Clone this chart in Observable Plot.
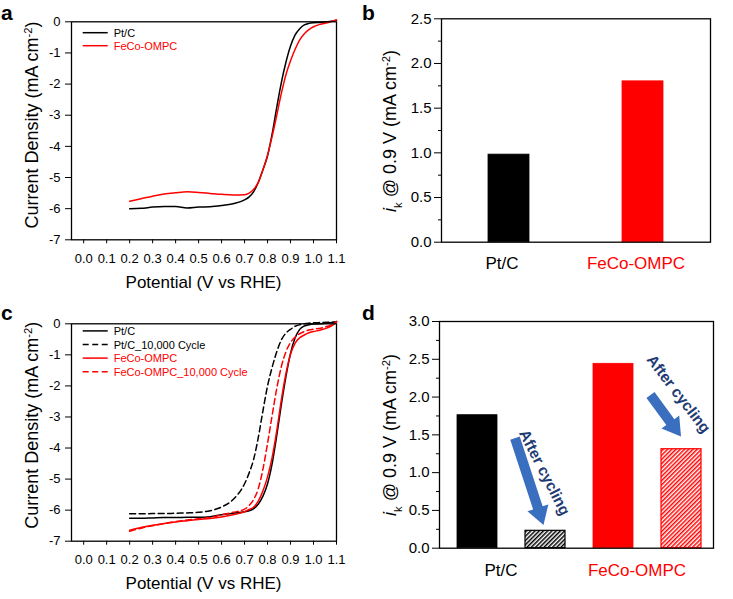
<!DOCTYPE html>
<html><head><meta charset="utf-8">
<script src="https://cdn.jsdelivr.net/npm/d3@7"></script>
<script src="https://cdn.jsdelivr.net/npm/@observablehq/plot@0.6"></script>
<style>
body{margin:0;background:#fff;}
#fig{position:relative;width:733px;height:599px;overflow:hidden;background:#fff;}
</style></head><body><div id="fig"></div>
<script>
// ---------- DATA ----------
const potential = [0.20,0.25,0.30,0.35,0.40,0.45,0.50,0.55,0.60,0.65,0.70,0.72,0.74,0.76,0.78,0.80,0.82,0.84,0.86,0.88,0.90,0.92,0.94,0.96,0.98,1.00,1.03,1.06,1.08,1.10];
// panel a
const ptcA  = [-6.00,-5.99,-5.95,-5.93,-5.93,-5.98,-5.95,-5.94,-5.90,-5.84,-5.72,-5.62,-5.45,-5.15,-4.75,-4.30,-3.60,-2.75,-1.95,-1.30,-0.78,-0.42,-0.22,-0.10,-0.05,-0.03,-0.02,0.00,0.02,0.05];
const fecoA = [-5.76,-5.68,-5.60,-5.53,-5.49,-5.46,-5.48,-5.51,-5.54,-5.56,-5.55,-5.50,-5.38,-5.15,-4.75,-4.28,-3.68,-3.00,-2.30,-1.70,-1.25,-0.88,-0.58,-0.38,-0.25,-0.16,-0.08,-0.03,0.02,0.06];
// panel c
const ptcC        = [-6.26,-6.26,-6.25,-6.24,-6.24,-6.23,-6.23,-6.21,-6.15,-6.10,-6.05,-6.02,-5.95,-5.80,-5.55,-5.15,-4.50,-3.60,-2.60,-1.70,-0.95,-0.45,-0.18,-0.07,-0.03,-0.01,0.00,0.02,0.04,0.07];
const ptcCycledC  = [-6.12,-6.12,-6.11,-6.11,-6.10,-6.09,-6.07,-6.02,-5.90,-5.66,-5.15,-4.80,-4.35,-3.65,-2.80,-2.00,-1.40,-0.90,-0.52,-0.30,-0.18,-0.08,-0.03,0.00,0.02,0.03,0.04,0.05,0.05,0.07];
const fecoC       = [-6.65,-6.56,-6.49,-6.43,-6.38,-6.34,-6.30,-6.27,-6.22,-6.15,-6.05,-5.98,-5.90,-5.70,-5.38,-4.93,-4.30,-3.45,-2.45,-1.60,-0.98,-0.62,-0.45,-0.36,-0.29,-0.25,-0.20,-0.13,-0.06,0.07];
const fecoCycledC = [-6.68,-6.58,-6.50,-6.43,-6.37,-6.32,-6.28,-6.24,-6.15,-6.07,-5.97,-5.85,-5.65,-5.30,-4.68,-3.85,-2.95,-2.08,-1.38,-0.90,-0.60,-0.43,-0.32,-0.25,-0.20,-0.17,-0.14,-0.08,-0.03,0.07];
const potentialTicks = [0.0,0.1,0.2,0.3,0.4,0.5,0.6,0.7,0.8,0.9,1.0,1.1];
const currentTicks = [0,-1,-2,-3,-4,-5,-6,-7];
// panel b
const catsB = ["Pt/C","FeCo-OMPC"];
const ikB = [0.98, 1.80];
const ikTicksB = [0.0,0.5,1.0,1.5,2.0,2.5];
const ikMinorB = [0.25,0.75,1.25,1.75,2.25];
// panel d
const groupsD = ["Pt/C","FeCo-OMPC"];
const barsD = ["Pt/C","Pt/C_10,000 Cycle","FeCo-OMPC","FeCo-OMPC_10,000 Cycle"];
const ikD = [1.76, 0.23, 2.44, 1.31];
const ikTicksD = [0.0,0.5,1.0,1.5,2.0,2.5,3.0];
const ikMinorD = [0.25,0.75,1.25,1.75,2.25,2.75];
const annotationText = "After cycling";

// ---------- STYLE ----------
const FONT = '"Liberation Sans", Arial, Helvetica, sans-serif';
const RED = "#ff0000";
const fig = document.getElementById("fig");

function place(el, left, top) {
  el.style.position = "absolute"; el.style.left = left + "px"; el.style.top = top + "px";
  fig.appendChild(el); return el;
}
function richText(svg, x, y, rotate, parts, size, anchor = "middle") {
  const t = d3.select(svg).append("text")
    .attr("transform", `translate(${x},${y}) rotate(${rotate})`)
    .attr("text-anchor", anchor).attr("font-size", size).attr("font-family", FONT).attr("fill", "#000");
  for (const p of parts) {
    const s = t.append("tspan").text(p.text);
    if (p.italic) s.attr("font-style", "italic");
    if (p.shift) s.attr("baseline-shift", p.shift).attr("font-size", size * 0.62);
  }
}
const yTitleLSV = [{text: "Current Density (mA cm"}, {text: "-2", shift: "super"}, {text: ")"}];
const yTitleIk = [{text: "i", italic: true}, {text: "k", shift: "sub"}, {text: " @ 0.9 V (mA cm"}, {text: "-2", shift: "super"}, {text: ")"}];

function legend(svg, x, y0, step, items) {
  const g = d3.select(svg).append("g").attr("font-family", FONT).attr("font-size", 11).attr("text-anchor", "start");
  items.forEach((s, i) => {
    const y = y0 + i * step;
    g.append("line").attr("x1", x).attr("x2", x + 25).attr("y1", y).attr("y2", y)
      .attr("stroke", s.color).attr("stroke-width", 1.5).attr("stroke-dasharray", s.dash || null);
    g.append("text").attr("x", x + 31).attr("y", y + 4).attr("text-anchor", "start").attr("fill", s.color).text(s.name);
  });
}

function lsvPanel(series, m) {
  const data = series.flatMap(s => potential.map((p, i) => ({potential: p, current: s.values[i], name: s.name})));
  return Plot.plot({
    width: m.width, height: m.height,
    marginLeft: m.left, marginRight: m.right, marginTop: m.top, marginBottom: m.bottom,
    x: {domain: [-0.053, 1.1], label: null},
    y: {domain: [-7, 0], label: null},
    style: {fontFamily: FONT, fontSize: "13px", color: "#000", background: "transparent", overflow: "visible"},
    marks: [
      Plot.axisY(currentTicks, {tickSize: 6, tickPadding: 5, tickFormat: d => String(d), fontSize: 13, label: null}),
      Plot.axisX(potentialTicks, {tickSize: 4, tickPadding: 10, tickFormat: d => d.toFixed(1), fontSize: 13, label: null}),
      ...series.map(s => Plot.line(data.filter(d => d.name === s.name),
        {x: "potential", y: "current", stroke: s.color, strokeWidth: 1.5, strokeDasharray: s.dash, curve: "monotone-x"})),
      Plot.frame({stroke: "#000", strokeWidth: 1.3})
    ]
  });
}

// ---------- PANEL A ----------
const seriesA = [
  {name: "Pt/C", values: ptcA, color: "#000"},
  {name: "FeCo-OMPC", values: fecoA, color: RED}
];
const svgA = place(lsvPanel(seriesA, {width: 366, height: 300, left: 71, right: 30, top: 21.3, bottom: 60.7}), 0, 0);
richText(svgA, 38, 125, -90, yTitleLSV, 18);
richText(svgA, 203.5, 288, 0, [{text: "Potential (V vs RHE)"}], 17);
legend(svgA, 82.7, 32.7, 13, seriesA);

// ---------- PANEL C ----------
const seriesC = [
  {name: "Pt/C", values: ptcC, color: "#000"},
  {name: "Pt/C_10,000 Cycle", values: ptcCycledC, color: "#000", dash: "6,3.5"},
  {name: "FeCo-OMPC", values: fecoC, color: RED},
  {name: "FeCo-OMPC_10,000 Cycle", values: fecoCycledC, color: RED, dash: "6,3.5"}
];
const svgC = place(lsvPanel(seriesC, {width: 366, height: 299, left: 71, right: 30, top: 23.3, bottom: 58.3}), 0, 300);
richText(svgC, 38, 125.3, -90, yTitleLSV, 18);
richText(svgC, 203.5, 289, 0, [{text: "Potential (V vs RHE)"}], 17);
legend(svgC, 82.7, 30.9, 13.6, seriesC);

// ---------- PANEL B ----------
const fillsB = ["#000", RED];
const dataB = catsB.map((c, i) => ({cat: c, value: ikB[i]}));
const svgB = place(Plot.plot({
  width: 367, height: 300, marginLeft: 75, marginRight: 23, marginTop: 18.3, marginBottom: 58.3,
  x: {domain: catsB, paddingInner: 0.695, paddingOuter: 0.3475, label: null, axis: null},
  y: {domain: [0, 2.5], label: null},
  style: {fontFamily: FONT, fontSize: "15px", color: "#000", background: "transparent", overflow: "visible"},
  marks: [
    Plot.axisY(ikTicksB, {tickSize: 7, tickPadding: 3, tickFormat: d => d.toFixed(1), fontSize: 15, label: null}),
    Plot.axisY(ikMinorB, {tickSize: 3, fill: "none", label: null}),
    ...dataB.map((d, i) => Plot.barY([d], {x: "cat", y: "value", fill: fillsB[i], stroke: fillsB[i], strokeWidth: 0.8})),
    ...catsB.map((c, i) => Plot.text([c], {x: d => d, text: d => d, frameAnchor: "bottom", lineAnchor: "bottom",
      dy: 26.5, dx: -7, fill: fillsB[i], fontSize: 17})),
    Plot.frame({stroke: "#000", strokeWidth: 1.3})
  ]
}), 366, 0);
richText(svgB, 30, 131, -90, yTitleIk, 18);

// ---------- PANEL D ----------
const fillsD = ["#000", "url(#hatchBlack)", RED, "url(#hatchRed)"];
const strokesD = ["#000", "#000", RED, RED];
const dataD = barsD.map((b, i) => ({bar: b, value: ikD[i]}));
// annotation geometry (arrows drawn from pre- to post-cycling bars)
const arrowsD = [
  {bar: barsD[1], fromDx: -30, fromY: 1.45, toDx: -1.5, toY: 0.30, textDx: -1, textY: 1.0, angle: 63},
  {bar: barsD[3], fromDx: -30.5, fromY: 2.02, toDx: 0, toY: 1.47, textDx: -3, textY: 2.04, angle: 52.5}
];
const svgD = place(Plot.plot({
  width: 367, height: 299, marginLeft: 73, marginRight: 20, marginTop: 21, marginBottom: 51.3,
  x: {domain: barsD, paddingInner: 0.406, paddingOuter: 0.203, align: 0.61, label: null, axis: null},
  y: {domain: [0, 3], label: null},
  style: {fontFamily: FONT, fontSize: "15px", color: "#000", background: "transparent", overflow: "visible"},
  marks: [
    Plot.axisY(ikTicksD, {tickSize: 7, tickPadding: 3, tickFormat: d => d.toFixed(1), fontSize: 15, label: null}),
    Plot.axisY(ikMinorD, {tickSize: 3, fill: "none", label: null}),
    ...dataD.map((d, i) => Plot.barY([d], {x: "bar", y: "value", fill: fillsD[i], stroke: strokesD[i], strokeWidth: i % 2 ? 1.2 : 0.8})),
    ...groupsD.map((g, i) => Plot.text([g], {x: d => d, text: d => d, frameAnchor: "bottom", lineAnchor: "bottom",
      dy: 27.3, dx: 23.5, fill: i ? RED : "#000", fontSize: 17})),
    ...arrowsD.map(a => Plot.text([a], {x: "bar", y: "textY", dx: a.textDx, text: () => annotationText, rotate: a.angle,
      fill: "#1f3c73", fontWeight: "bold", fontSize: 15.5, textAnchor: "middle", lineAnchor: "middle"})),
    Plot.frame({stroke: "#000", strokeWidth: 1.3})
  ]
}), 366, 300);
richText(svgD, 30, 135, -90, yTitleIk, 18);
{
  const defs = d3.select(svgD).insert("defs", ":first-child");
  const hatch = (id, color) => {
    const p = defs.append("pattern").attr("id", id).attr("patternUnits", "userSpaceOnUse")
      .attr("width", 3).attr("height", 3).attr("patternTransform", "rotate(45)");
    p.append("rect").attr("width", 3).attr("height", 3).attr("fill", "#fff");
    p.append("rect").attr("width", 1.5).attr("height", 3).attr("fill", color);
  };
  hatch("hatchBlack", "#000");
  hatch("hatchRed", RED);
  const sx = svgD.scale("x"), sy = svgD.scale("y");
  const cx = b => sx.apply(b) + sx.bandwidth / 2;
  const g = d3.select(svgD).append("g");
  for (const a of arrowsD) {
    const x0 = cx(a.bar) + a.fromDx, y0 = sy.apply(a.fromY);
    const x1 = cx(a.bar) + a.toDx, y1 = sy.apply(a.toY);
    const L = Math.hypot(x1 - x0, y1 - y0), ux = (x1 - x0) / L, uy = (y1 - y0) / L, nx = -uy, ny = ux;
    const hl = 18, sw = 5, hw = 11;
    const hx = x1 - ux * hl, hy = y1 - uy * hl;
    const pts = [[x0 + nx*sw, y0 + ny*sw], [hx + nx*sw, hy + ny*sw], [hx + nx*hw, hy + ny*hw], [x1, y1],
                 [hx - nx*hw, hy - ny*hw], [hx - nx*sw, hy - ny*sw], [x0 - nx*sw, y0 - ny*sw]];
    g.append("path").attr("d", "M" + pts.map(p => p.join(",")).join("L") + "Z").attr("fill", "#3a6ebe");
  }
}

// ---------- PANEL LETTERS ----------
const overlay = d3.create("svg").attr("width", 733).attr("height", 599)
  .style("pointer-events", "none").attr("font-family", FONT).attr("font-weight", "bold").attr("font-size", 21);
[["a", 1, 20], ["b", 362, 20], ["c", 1, 320], ["d", 362, 320]].forEach(([t, x, y]) =>
  overlay.append("text").attr("x", x).attr("y", y).text(t));
place(overlay.node(), 0, 0);
</script></body></html>
